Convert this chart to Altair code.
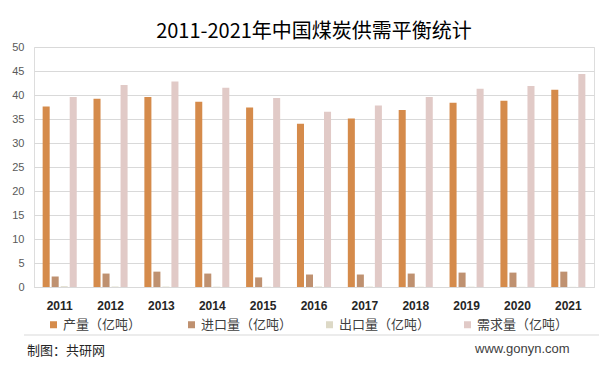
import altair as alt
import pandas as pd

years = ["2011", "2012", "2013", "2014", "2015", "2016", "2017", "2018", "2019", "2020", "2021"]
series = ["产量（亿吨）", "进口量（亿吨）", "出口量（亿吨）", "需求量（亿吨）"]
production = [37.6, 39.2, 39.6, 38.6, 37.4, 34.0, 35.1, 36.9, 38.4, 38.8, 41.1]
imports = [2.2, 2.8, 3.2, 2.8, 2.0, 2.6, 2.6, 2.8, 3.0, 3.0, 3.2]
exports = [0.15, 0.09, 0.08, 0.06, 0.05, 0.09, 0.08, 0.05, 0.06, 0.03, 0.03]
demand = [39.6, 42.1, 42.8, 41.5, 39.4, 36.5, 37.8, 39.6, 41.3, 41.9, 44.4]
colors = ["#D58B4B", "#BF9170", "#DDD9C6", "#E1CAC7"]

rows = []
for name, vals in zip(series, [production, imports, exports, demand]):
    for y, v in zip(years, vals):
        rows.append({"年份": y, "指标": name, "值": v})
df = pd.DataFrame(rows)

bars = alt.Chart(df).mark_bar().encode(
    x=alt.X("年份:N", sort=years, title=None,
            scale=alt.Scale(paddingInner=0.33, paddingOuter=0.17),
            axis=alt.Axis(labelAngle=0, labelFontWeight="bold", labelFontSize=12,
                          labelColor="#262626", labelFont="Liberation Sans",
                          ticks=False, domainColor="#D9D9D9", labelPadding=13)),
    xOffset=alt.XOffset("指标:N", sort=series,
                        scale=alt.Scale(paddingInner=0.22, paddingOuter=0)),
    y=alt.Y("值:Q", title=None,
            scale=alt.Scale(domain=[0, 50]),
            axis=alt.Axis(values=list(range(0, 51, 5)), ticks=False, domain=False,
                          gridColor="#D9D9D9", labelColor="#595959", labelFontSize=11,
                          labelFont="Liberation Sans", labelPadding=10)),
    color=alt.Color("指标:N", sort=series,
                    scale=alt.Scale(domain=series, range=colors),
                    legend=alt.Legend(title=None, orient="none", legendX=13, legendY=271,
                                      direction="horizontal", columns=4,
                                      symbolType="square", symbolSize=49,
                                      symbolStrokeWidth=0, labelFontSize=13,
                                      labelFont="Noto Sans CJK SC", labelColor="#404040",
                                      columnPadding=30, gridAlign="all", padding=0,
                                      labelOffset=3)),
)

rule = alt.Chart(pd.DataFrame({"k": [0]})).mark_rule(color="#D9D9D9").encode(
    x=alt.value(-10), x2=alt.value(565), y=alt.value(288))

credit = alt.Chart(pd.DataFrame({"t": ["制图：共研网"]})).mark_text(
    align="left", baseline="middle", fontSize=13, font="Noto Sans CJK SC", color="#262626"
).encode(text="t:N", x=alt.value(-7), y=alt.value(304))

site = alt.Chart(pd.DataFrame({"t": ["www.gonyn.com"]})).mark_text(
    align="left", baseline="middle", fontSize=13, font="Liberation Sans", color="#404040"
).encode(text="t:N", x=alt.value(441), y=alt.value(302))

chart = alt.layer(bars, rule, credit, site).properties(
    width=560, height=240,
    title=alt.TitleParams("2011-2021年中国煤炭供需平衡统计", fontSize=20,
                          font="Noto Sans CJK SC", fontWeight="normal",
                          color="#000000", anchor="middle", frame="group", offset=-1),
    padding={"left": 3, "top": 14, "right": 5, "bottom": 5},
).configure_view(stroke=None).configure(background="white")

chart.save("out.html", embed_options={"renderer": "svg", "actions": False})
